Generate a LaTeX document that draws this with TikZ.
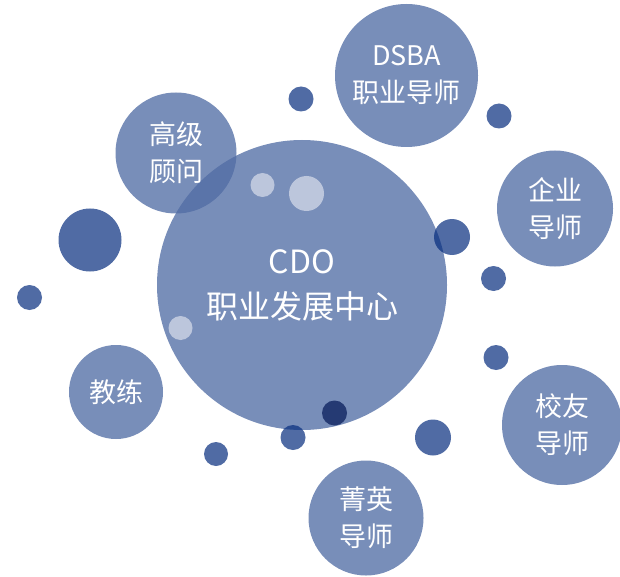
\documentclass[tikz,border=0pt]{standalone}
\usepackage{fontspec}
\setmainfont{Noto Sans CJK SC}
\definecolor{bubbleblue}{RGB}{80,108,164}
\definecolor{spotblue}{RGB}{5,44,126}
\definecolor{navyblue}{RGB}{1,22,85}
\begin{document}
\begin{tikzpicture}[x=1pt, y=-1pt,
        bubble/.style={circle, fill=bubbleblue, fill opacity=0.77, text opacity=1, text=white, inner sep=0pt, align=center, font=\fontsize{27}{37}\selectfont},
        spot/.style={circle, fill=spotblue, fill opacity=0.7, inner sep=0pt},
        glint/.style={circle, fill=white, fill opacity=0.5, inner sep=0pt}
    ]
        \useasboundingbox (0,0) rectangle (620,577);

        % Centre and satellite bubbles (Absolute positioning)
        \node[bubble, minimum size=290pt, font=\fontsize{32}{45}\selectfont] (cdo) at (302, 285) {CDO\\职业发展中心};
        \node[bubble, minimum size=121pt] (advisor) at (176, 153) {高级\\顾问};
        \node[bubble, minimum size=143pt] (dsba) at (406.5, 75.5) {DSBA\\职业导师};
        \node[bubble, minimum size=116pt] (corp) at (555, 208.5) {企业\\导师};
        \node[bubble, minimum size=120pt] (alumni) at (562, 425) {校友\\导师};
        \node[bubble, minimum size=115pt] (elite) at (366, 518) {菁英\\导师};
        \node[bubble, minimum size=94pt] (coach) at (116, 392) {教练};

        % Dark spots
        \node[spot, minimum size=63pt] (spotA) at (90, 240) {};
        \node[spot, minimum size=25pt] (spotB) at (29.5, 297.5) {};
        \node[spot, minimum size=25pt] (spotC) at (301, 99) {};
        \node[spot, minimum size=25pt] (spotD) at (499, 116) {};
        \node[spot, minimum size=36pt] (spotE) at (452, 237) {};
        \node[spot, minimum size=25pt] (spotF) at (493.5, 278.5) {};
        \node[spot, minimum size=25pt] (spotG) at (496, 357.5) {};
        \node[spot, minimum size=36pt] (spotH) at (433, 437.5) {};
        \node[spot, minimum size=25pt] (spotI) at (293, 437.5) {};
        \node[spot, minimum size=24pt] (spotJ) at (216, 454) {};
        \node[spot, minimum size=25pt, fill=navyblue] (spotK) at (334.5, 413) {};

        % Light spots on the centre bubble
        \node[glint, minimum size=24pt] (glintA) at (262.5, 185) {};
        \node[glint, minimum size=35pt] (glintB) at (306.5, 193.5) {};
        \node[glint, minimum size=24pt] (glintC) at (180.5, 328) {};

    \end{tikzpicture}
\end{document}
